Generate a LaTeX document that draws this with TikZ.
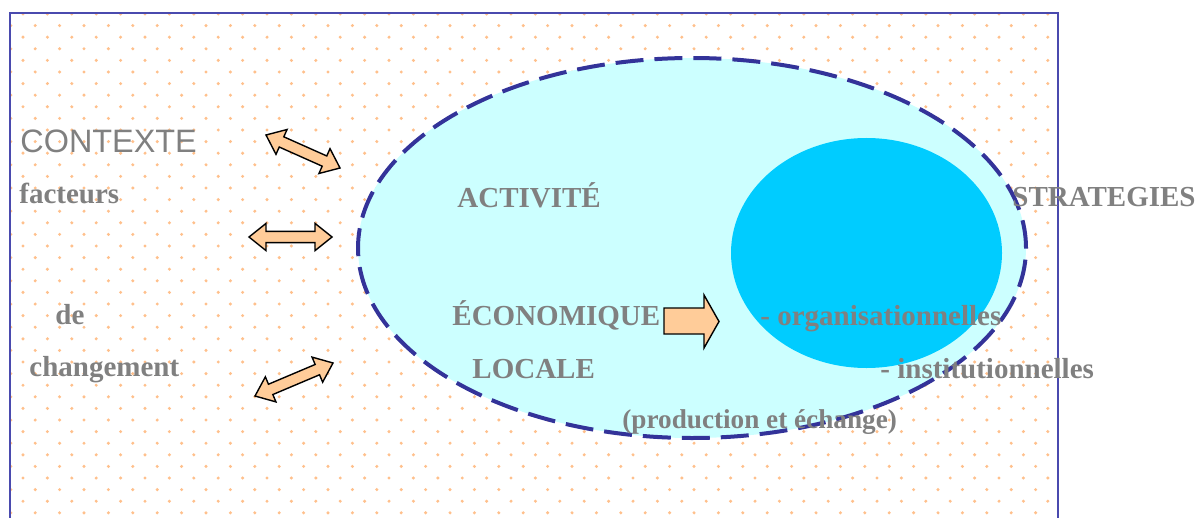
\documentclass[tikz,border=0pt]{standalone}
\usepackage{fontspec}
\setmainfont{Liberation Serif}
\newfontfamily\sansfam{Liberation Sans}
\usetikzlibrary{calc,shapes.geometric}

\definecolor{framecol}{HTML}{4A4AAE}
\definecolor{dotcol}{HTML}{FFC08C}
\definecolor{ringcol}{HTML}{333399}
\definecolor{pale}{HTML}{CCFFFF}
\definecolor{corecol}{HTML}{00CCFF}
\definecolor{txtgray}{HTML}{808080}
\definecolor{peach}{HTML}{FFCC99}

\tikzset{
  lbl/.style={text=txtgray, font=\bfseries\fontsize{14.5}{17}\selectfont,
              anchor=base west, inner sep=0pt},
  arrowbody/.style={fill=peach, draw=black, line width=0.7pt, line join=miter},
}

% double-headed block arrow between two named points
\newcommand\twoway[2]{%
  \coordinate (ta) at ($(#1)!8.5pt!(#2)$);
  \coordinate (tb) at ($(#2)!8.5pt!(#1)$);
  \draw[arrowbody] (#1) -- ($(ta)!6.8pt!90:(#2)$) -- ($(ta)!2.8pt!90:(#2)$)
    -- ($(tb)!2.8pt!-90:(#1)$) -- ($(tb)!6.8pt!-90:(#1)$) -- (#2)
    -- ($(tb)!6.8pt!90:(#1)$) -- ($(tb)!2.8pt!90:(#1)$)
    -- ($(ta)!2.8pt!-90:(#2)$) -- ($(ta)!6.8pt!-90:(#2)$) -- cycle;}

\begin{document}
\begin{tikzpicture}[x=0.5pt,y=-0.5pt]
\useasboundingbox (0,0) rectangle (1202,518);
\clip (0,0) rectangle (1202,518);

% dotted background inside the frame
\begin{scope}
  \clip (11,14) rectangle (1057,518);
  \foreach \k in {0,...,44} {
    \foreach \i in {0,...,44} {
      \fill[dotcol] ({23+24.4*\i-12.2*mod(\k,2)},{14+11.6*\k}) circle[radius=0.85pt];
    }
  }
\end{scope}

% frame
\draw[framecol, line width=1pt] (10,540) -- (10,13) -- (1058,13) -- (1058,540);

% local economic activity field and strategy core
\node[ellipse, draw=ringcol, fill=pale, line width=2pt,
      dash pattern=on 14pt off 5.5pt, minimum width=334pt, minimum height=190pt,
      inner sep=0pt] (field) at (692,248) {};
\node[ellipse, fill=corecol, minimum width=135.5pt, minimum height=115pt,
      inner sep=0pt] (core) at (866.5,253) {};

% context arrows
\coordinate (a1) at (266,135); \coordinate (b1) at (340,168);
\coordinate (a2) at (249,237); \coordinate (b2) at (332,237);
\coordinate (a3) at (255,396); \coordinate (b3) at (333,363);
\twoway{a1}{b1}
\twoway{a2}{b2}
\twoway{a3}{b3}

% arrow toward the strategies
\draw[arrowbody] (664,308) -- (704,308) -- (704,295) -- (719,321.5)
  -- (704,348) -- (704,334) -- (664,334) -- cycle;

% labels
\node[anchor=base west, inner sep=0pt, text=txtgray,
      font=\sansfam\fontsize{16.2}{19}\selectfont] (ctx) at (20,153) {CONTEXTE};
\node[lbl] (fac) at (19,204) {facteurs};
\node[lbl] (de)  at (55,324) {de};
\node[lbl] (chg) at (29,376) {changement};
\node[lbl] (act) at (457,207) {ACTIVITÉ};
\node[lbl] (eco) at (452,325) {ÉCONOMIQUE};
\node[lbl] (loc) at (472,378) {LOCALE};
\node[lbl] (str) at (1012,206) {STRATEGIES};
\node[lbl] (org) at (760,325) {- organisationnelles};
\node[lbl] (ins) at (880,378) {- institutionnelles};
\node[lbl, font=\bfseries\fontsize{13.6}{16}\selectfont] (prod) at (622,428) {(production et échange)};
\end{tikzpicture}
\end{document}
